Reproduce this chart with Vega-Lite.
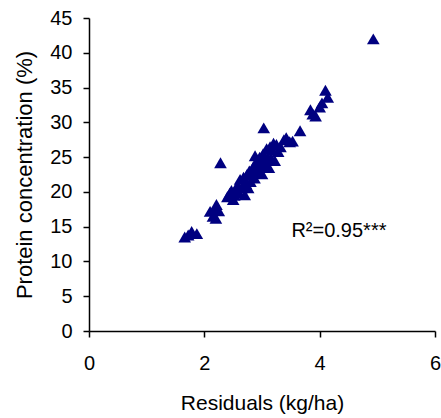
{
  "$schema": "https://vega.github.io/schema/vega-lite/v6.json",
  "autosize": "none",
  "width": 346,
  "height": 313,
  "padding": {"left": 89, "top": 18, "right": 6, "bottom": 87},
  "background": "white",
  "config": {
    "view": {"stroke": null},
    "font": "Liberation Sans",
    "axis": {
      "grid": false,
      "domainColor": "#000000",
      "domainWidth": 1.5,
      "tickColor": "#000000",
      "tickWidth": 1.5,
      "tickSize": 6,
      "labelFont": "Liberation Sans",
      "labelFontSize": 20,
      "labelColor": "#000000",
      "labelOverlap": false,
      "titleFont": "Liberation Sans",
      "titleFontWeight": "normal",
      "titleColor": "#000000"
    }
  },
  "encoding": {
    "x": {
      "field": "x", "type": "quantitative",
      "scale": {"domain": [0, 6], "nice": false, "zero": false},
      "axis": {"values": [0, 2, 4, 6], "format": "d", "title": "Residuals (kg/ha)", "titleFontSize": 21, "labelPadding": 16, "titlePadding": 19, "labelFlush": false}
    },
    "y": {
      "field": "y", "type": "quantitative",
      "scale": {"domain": [0, 45], "nice": false},
      "axis": {"values": [0, 5, 10, 15, 20, 25, 30, 35, 40, 45], "format": "d", "title": "Protein concentration (%)", "titleFontSize": 22, "labelPadding": 11, "titlePadding": 13, "labelFlush": false}
    }
  },
  "layer": [
    {
      "data": {
        "values": [
          {"x": 1.66, "y": 13.5}, {"x": 1.72, "y": 13.8}, {"x": 1.78, "y": 14.3}, {"x": 1.87, "y": 14.0},
          {"x": 2.10, "y": 17.2}, {"x": 2.15, "y": 16.5}, {"x": 2.18, "y": 17.5}, {"x": 2.21, "y": 18.2},
          {"x": 2.20, "y": 16.2}, {"x": 2.25, "y": 17.3}, {"x": 2.28, "y": 24.2}, {"x": 2.40, "y": 19.3},
          {"x": 2.44, "y": 19.8}, {"x": 2.47, "y": 20.2}, {"x": 2.50, "y": 18.9}, {"x": 2.52, "y": 19.5},
          {"x": 2.55, "y": 20.5}, {"x": 2.58, "y": 21.0}, {"x": 2.60, "y": 19.8}, {"x": 2.62, "y": 21.8},
          {"x": 2.65, "y": 20.6}, {"x": 2.68, "y": 22.1}, {"x": 2.70, "y": 19.6}, {"x": 2.72, "y": 21.2},
          {"x": 2.74, "y": 22.5}, {"x": 2.76, "y": 20.6}, {"x": 2.78, "y": 23.0}, {"x": 2.80, "y": 21.5},
          {"x": 2.82, "y": 22.8}, {"x": 2.85, "y": 23.6}, {"x": 2.87, "y": 22.0}, {"x": 2.88, "y": 25.2},
          {"x": 2.90, "y": 24.3}, {"x": 2.92, "y": 22.8}, {"x": 2.94, "y": 23.5}, {"x": 2.96, "y": 25.0},
          {"x": 2.98, "y": 24.0}, {"x": 3.00, "y": 22.6}, {"x": 3.02, "y": 25.5}, {"x": 3.03, "y": 29.2},
          {"x": 3.05, "y": 23.8}, {"x": 3.07, "y": 24.6}, {"x": 3.08, "y": 26.2}, {"x": 3.10, "y": 25.0},
          {"x": 3.12, "y": 23.5}, {"x": 3.14, "y": 26.5}, {"x": 3.16, "y": 24.8}, {"x": 3.18, "y": 26.0},
          {"x": 3.20, "y": 27.0}, {"x": 3.22, "y": 24.5}, {"x": 3.25, "y": 26.8}, {"x": 3.28, "y": 25.8},
          {"x": 3.32, "y": 26.5}, {"x": 3.38, "y": 27.5}, {"x": 3.42, "y": 27.8}, {"x": 3.48, "y": 27.2},
          {"x": 3.53, "y": 27.3}, {"x": 3.66, "y": 28.8}, {"x": 3.84, "y": 31.8}, {"x": 3.88, "y": 31.2},
          {"x": 3.93, "y": 30.9}, {"x": 4.00, "y": 32.2}, {"x": 4.04, "y": 32.8}, {"x": 4.10, "y": 34.6},
          {"x": 4.14, "y": 33.6}, {"x": 4.93, "y": 42.0}
        ]
      },
      "mark": {"type": "point", "shape": "triangle-up", "filled": true, "size": 160, "color": "#000080", "opacity": 1, "strokeWidth": 0}
    },
    {
      "data": {"values": [{"x": 3.51, "y": 13.5, "label": "R²=0.95***"}]},
      "mark": {"type": "text", "align": "left", "baseline": "alphabetic", "fontSize": 20, "font": "Liberation Sans", "color": "#000000"},
      "encoding": {
        "text": {"field": "label"}
      }
    }
  ]
}
